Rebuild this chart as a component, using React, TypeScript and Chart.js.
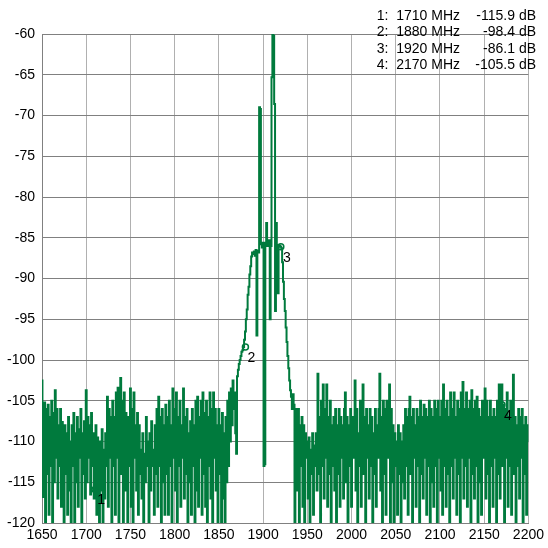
import React, { useEffect, useRef } from "react";
import { Chart, registerables } from "chart.js";

Chart.register(...registerables);

// Frequency sweep (MHz): start / step of the trace samples
const FREQ_START = 1650;
const FREQ_STEP = 1;

// Trace levels (dB), one per MHz
const levelsLow = [
  -102.5, -116.8, -111, -105.2, -120, -106, -114, -105.5, -119, -107,
  -113, -105, -120, -106.5, -115, -103.7, -112, -106, -117, -108,
  -113, -106, -118, -107.6, -111, -120, -108, -114, -109, -119,
  -107, -116, -110, -120, -108, -113, -106.5, -120, -109, -115,
  -107, -118, -108.5, -112, -106, -120, -109, -114, -107.5, -117,
  -103.7, -115, -107, -112, -108, -116.5, -106.5, -113, -109, -117,
  -115.9, -108, -119, -109.5, -114, -120, -110, -116, -108.5, -120,
  -111, -117, -109, -113, -104.5, -118, -106, -112, -107, -120,
  -105, -113, -107, -119, -104, -112, -103.4, -120, -106, -102.2,
  -114, -105, -120, -104, -116, -106.5, -111, -120, -107, -113,
  -103.5, -118, -106, -120, -104, -112, -108, -116, -106.5, -119,
  -108, -114, -111, -117, -109, -120, -111.5, -115, -107, -113,
  -110, -120, -109, -116, -107.5, -113, -111, -119, -108, -114,
  -106, -118, -104.5, -113, -107, -120, -106, -115, -108, -119,
  -105.5, -114, -107, -119, -105, -113, -108, -120, -103.5, -112,
  -106, -116, -104, -120, -107, -113, -105, -118, -108, -112,
  -103.5, -117, -107, -114, -106, -120, -109, -115, -107.5, -119,
  -106, -113, -108, -120, -105, -116, -104.5, -118, -107, -112,
  -105, -119, -104, -114, -106.5, -118, -105, -120, -107, -113,
  -104, -117, -106, -120, -104, -112, -106, -116, -108, -120,
  -106, -114, -108, -120, -106.5, -117, -109, -120, -107, -115,
];
const levelsPeak = [
  -105, -113, -104, -110, -103.5, -108, -102.5, -106, -104, -109,
  -111.5, -102, -101.2, -100.5, -100, -99.5, -99, -98.8, -98.4, -97.5,
  -96.5, -95, -93.8, -92, -91, -89.5, -88.5, -87.3, -86.8, -87,
  -86.7, -87.2, -86.5, -97, -86.6, -86.8, -69, -69.2, -85.8, -86.2,
  -85.6, -113, -112.8, -85.6, -83.2, -86, -85.5, -85.3, -95, -86,
  -65.3, -60, -60.2, -68.6, -94, -83.2, -86, -91.8, -85.9, -86,
  -86.1, -86.3, -88, -90.4, -92.5, -94, -96, -97.8, -99.5, -101,
  -102.5, -103.7, -104.5, -106, -104.2, -105.5, -120, -106,
];
const levelsHigh = [
  -107, -116,
  -106, -120, -108, -113, -107, -118, -108, -120, -109, -112,
  -110, -117, -109.5, -120, -111, -114, -109, -119, -110.5, -113,
  -109, -116, -101.7, -114, -107, -120, -105, -113, -103, -117,
  -106, -112, -103, -118, -107, -114, -105, -120, -108, -113,
  -107, -116, -106, -120, -108, -114, -106, -118, -107, -112,
  -108, -117, -106, -104, -115, -107, -120, -108, -113, -106,
  -118, -107, -112, -108, -102.5, -116, -106, -120, -109, -113,
  -105, -118, -106, -103, -114, -107, -120, -106, -112, -108,
  -117, -106, -113, -107, -120, -109, -114, -106, -118, -108,
  -112, -106, -101.7, -116, -107, -120, -105, -114, -106, -119,
  -105, -112, -107, -103, -120, -106, -115, -108, -120, -109,
  -113, -110, -119, -108, -114, -109, -120, -110, -115, -108,
  -117, -106, -113, -107, -119, -106, -104.5, -114, -107, -120,
  -106, -112, -108, -118, -106, -113, -107, -120, -105, -114,
  -107, -117, -105.5, -112, -106, -119, -107, -113, -105, -120,
  -106, -115, -107, -118, -105, -113, -106, -120, -105, -112,
  -107, -116, -105, -119, -103, -113, -106, -118, -105, -114,
  -107, -120, -104, -113, -106, -117, -104, -112, -107, -119,
  -105, -114, -106, -120, -104, -112, -102.7, -117, -106, -113,
  -104, -118, -106, -112, -105, -120, -103.7, -114, -106, -117,
  -105, -113, -104.5, -120, -106, -115, -107, -119, -105, -112,
  -106, -103.5, -117, -105, -114, -107, -120, -105, -113, -107,
  -118, -106, -112, -107, -120, -105, -114, -103, -117, -106,
  -103, -113, -105.5, -120, -106, -112, -104, -118, -107, -113,
  -105, -119, -106, -101.8, -114, -107, -120, -108, -113, -106,
  -117, -107, -112, -106, -120, -108, -114, -107, -119, -108,
  -110,
];

// Markers
const markerFreqs = [1710, 1880, 1920, 2170];
const markerLevels = [-115.9, -98.4, -86.1, -105.5];

// Axis ticks
const X_MIN = 1650, X_MAX = 2200, X_STEP = 50;
const Y_MIN = -120, Y_MAX = -60, Y_STEP = 5;

const GREEN = "#007a3d";
const FONT = "'Liberation Sans', Arial, sans-serif";

const markerPlugin = {
  id: "markers",
  afterDatasetsDraw(chart: any) {
    const { ctx, scales } = chart;
    ctx.save();
    ctx.font = `14px ${FONT}`;
    ctx.textAlign = "center";
    ctx.textBaseline = "middle";
    markerFreqs.forEach((f, i) => {
      const px = scales.x.getPixelForValue(f);
      const py = scales.y.getPixelForValue(markerLevels[i]);
      ctx.beginPath();
      ctx.arc(px, py, 3, 0, Math.PI * 2);
      ctx.strokeStyle = GREEN;
      ctx.lineWidth = 1.5;
      ctx.stroke();
      ctx.fillStyle = "#000";
      ctx.fillText(String(i + 1), px + 6, py + 11);
    });
    ctx.restore();
  },
  afterDraw(chart: any) {
    const { ctx } = chart;
    ctx.save();
    ctx.font = `14px ${FONT}`;
    ctx.fillStyle = "#000";
    ctx.textBaseline = "middle";
    markerFreqs.forEach((f, i) => {
      const y = 16 + i * 16.4;
      ctx.textAlign = "right";
      ctx.fillText(`${i + 1}:  ${f} MHz`, 460, y);
      ctx.fillText(`${markerLevels[i].toFixed(1)} dB`, 536, y);
    });
    ctx.restore();
  },
};

export default function App() {
  const ref = useRef<HTMLCanvasElement>(null);
  useEffect(() => {
    const levels = [...levelsLow, ...levelsPeak, ...levelsHigh];
    const points = levels.map((v, i) => ({ x: FREQ_START + i * FREQ_STEP, y: v }));
    const chart = new Chart(ref.current!, {
      type: "line",
      data: {
        datasets: [
          {
            data: points,
            borderColor: GREEN,
            borderWidth: 2,
            pointRadius: 0,
            stepped: "middle",
          },
        ],
      },
      options: {
        animation: false,
        responsive: false,
        devicePixelRatio: 1,
        layout: { padding: { top: 34, right: 16, left: 0, bottom: 0 } },
        plugins: { legend: { display: false }, tooltip: { enabled: false } },
        scales: {
          x: {
            type: "linear",
            min: X_MIN,
            max: X_MAX,
            afterFit: (s: any) => { s.height = 25; },
            ticks: {
              stepSize: X_STEP,
              autoSkip: false,
              maxRotation: 0,
              color: "#000",
              padding: 4,
              font: { family: FONT, size: 14 },
              callback: (v: any) => String(v),
            },
            grid: { color: "#b0b0b0", drawTicks: false },
            border: { color: "#808080" },
          },
          y: {
            min: Y_MIN,
            max: Y_MAX,
            afterFit: (s: any) => { s.width = 42; },
            ticks: {
              stepSize: Y_STEP,
              color: "#000",
              padding: 7,
              font: { family: FONT, size: 14 },
              callback: (v: any) => String(v),
            },
            grid: { color: "#808080", drawTicks: false },
            border: { color: "#808080" },
          },
        },
      },
      plugins: [markerPlugin],
    });
    return () => chart.destroy();
  }, []);
  return (
    <div style={{ position: "fixed", left: 0, top: 0, width: 548, height: 548, background: "#fff" }}>
      <canvas ref={ref} width={548} height={548} />
    </div>
  );
}
